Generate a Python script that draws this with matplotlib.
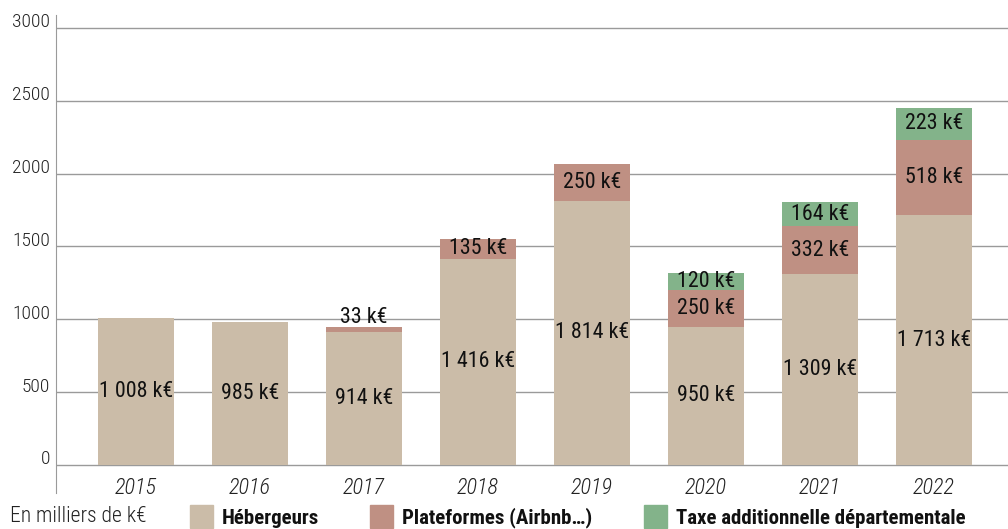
import matplotlib
matplotlib.use("Agg")
import matplotlib.pyplot as plt
from matplotlib import font_manager as fm
from matplotlib.patches import Rectangle

entries = fm.fontManager.ttflist
names = {f.name for f in entries}

def has(name, bold=False, italic=False):
    for f in entries:
        if f.name != name:
            continue
        wb = (f.weight in (600, 700, 800, 900, "bold", "semibold", "heavy", "black"))
        it = f.style in ("italic", "oblique")
        if bold == wb and italic == it:
            return True
    return False

cands = ["Roboto Condensed", "Liberation Sans Narrow", "Open Sans Condensed", "Roboto"]
FAM = next((c for c in cands if c in names), "DejaVu Sans")
BFAM = next((c for c in cands if has(c, bold=True)), "Roboto")
IFAM = next((c for c in cands if has(c, italic=True)), FAM)

years = ["2015", "2016", "2017", "2018", "2019", "2020", "2021", "2022"]
hebergeurs = [1008, 985, 914, 1416, 1814, 950, 1309, 1713]
plateformes = [0, 0, 33, 135, 250, 250, 332, 518]
taxe = [0, 0, 0, 0, 0, 120, 164, 223]
yticks = [0, 500, 1000, 1500, 2000, 2500, 3000]
series_names = ["Hébergeurs", "Plateformes (Airbnb…)", "Taxe additionnelle départementale"]
colors = ["#cbbca8", "#bf9083", "#83b38a"]
note = "En milliers de k€"

def fmt(v):
    return f"{v:,}".replace(",", " ") + " k€"

fig = plt.figure(figsize=(10.08, 5.29), dpi=100)
ax = fig.add_axes([56/1008, 1 - 493/529, 952/1008, (493-15)/529])
x = list(range(len(years)))
w = 0.667
ax.bar(x, hebergeurs, width=w, color=colors[0], zorder=2)
ax.bar(x, plateformes, width=w, bottom=hebergeurs, color=colors[1], zorder=2)
bt = [h + p for h, p in zip(hebergeurs, plateformes)]
ax.bar(x, taxe, width=w, bottom=bt, color=colors[2], zorder=2)

ax.set_xlim(-0.70, 7.65)
ax.set_ylim(-192, 3089)
for s in ["top", "right", "bottom"]:
    ax.spines[s].set_visible(False)
ax.spines["left"].set_color("#9a9a9a")
ax.set_xticks([])
ax.set_yticks([])
for t in yticks:
    ax.axhline(t, color="#9a9a9a", lw=1, zorder=1)
    ax.text(-0.006, t + 4, str(t), transform=ax.get_yaxis_transform(), ha="right", va="baseline",
            fontsize=14, family=FAM, color="#222222", fontweight="light")

LBL = 15.8
for i in x:
    ax.text(i, -160, years[i], ha="center", va="center", fontsize=16, family=IFAM,
            style="italic", color="#222222", fontweight="light")
    ax.text(i, hebergeurs[i] / 2, fmt(hebergeurs[i]), ha="center", va="center",
            fontsize=LBL, family=FAM, color="#111111", zorder=3)
    if plateformes[i] > 0:
        if plateformes[i] < 80:
            ax.text(i, bt[i] + 28, fmt(plateformes[i]), ha="center", va="baseline",
                    fontsize=LBL, family=FAM, color="#111111", zorder=3)
        else:
            ax.text(i, hebergeurs[i] + plateformes[i] / 2, fmt(plateformes[i]), ha="center",
                    va="center", fontsize=LBL, family=FAM, color="#111111", zorder=3)
    if taxe[i] > 0:
        ax.text(i, bt[i] + taxe[i] / 2, fmt(taxe[i]), ha="center", va="center",
                fontsize=LBL, family=FAM, color="#111111", zorder=3)

# legend
fig.text(10/1008, 1 - 517/529, note, ha="left", va="center", fontsize=15.5, family=FAM,
         color="#222222", fontweight="light")
sq = [190, 370, 644]
bsize = 15 if BFAM != "Roboto" else 13
for xs, c, n in zip(sq, colors, series_names):
    fig.patches.append(Rectangle((xs/1008, 1 - 528/529), 23/1008, 23/529,
                                 transform=fig.transFigure, color=c, figure=fig))
    fig.text((xs + 32)/1008, 1 - 518/529, n, ha="left", va="center", fontsize=bsize,
             family=BFAM, fontweight="bold", color="#111111")

fig.savefig("out.png", dpi=100)
